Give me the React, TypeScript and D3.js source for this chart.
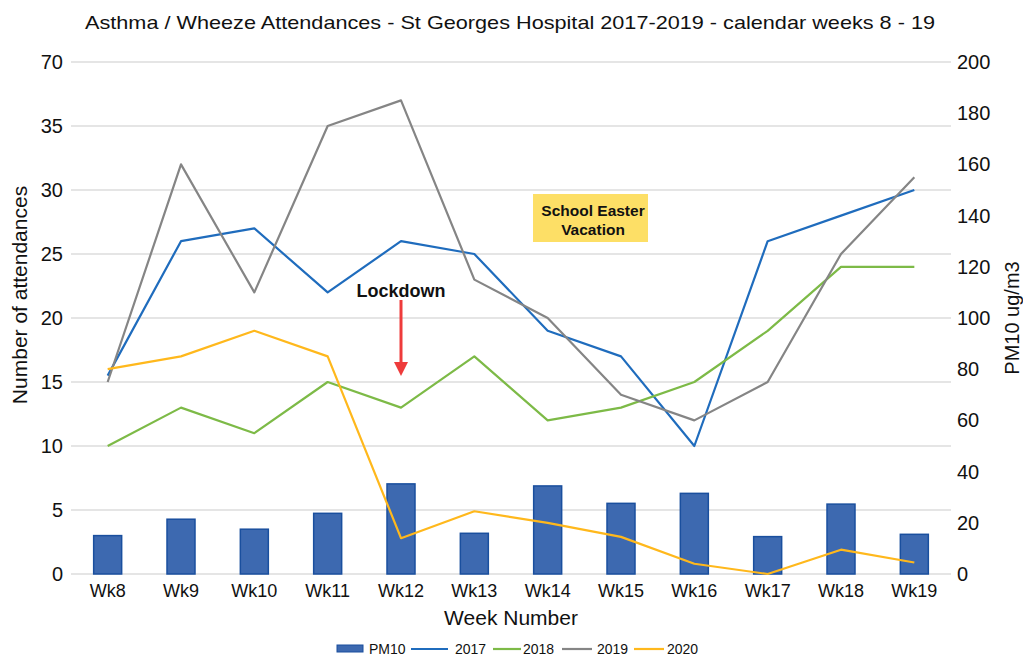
import React, { useEffect, useRef } from 'react';
import * as d3 from 'd3';

const weeks = ['Wk8', 'Wk9', 'Wk10', 'Wk11', 'Wk12', 'Wk13', 'Wk14', 'Wk15', 'Wk16', 'Wk17', 'Wk18', 'Wk19'];
const pm10 = [15, 21.4, 17.5, 23.7, 35.2, 15.9, 34.4, 27.6, 31.5, 14.6, 27.3, 15.5];
const y2017 = [15.5, 26, 27, 22, 26, 25, 19, 17, 10, 26, 28, 30];
const y2018 = [10, 13, 11, 15, 13, 17, 12, 13, 15, 19, 24, 24];
const y2019 = [15, 32, 22, 35, 37, 23, 20, 14, 12, 15, 25, 31];
const y2020 = [16, 17, 19, 17, 2.8, 4.9, 4, 2.9, 0.8, 0, 1.9, 0.9];
// the original chart labels its top tick "70" although the step is 5
const leftTicks = [0, 5, 10, 15, 20, 25, 30, 35, 40];
const leftTickLabels = ['0', '5', '10', '15', '20', '25', '30', '35', '70'];
const rightTicks = [0, 20, 40, 60, 80, 100, 120, 140, 160, 180, 200];

const series = [
  { name: '2017', values: y2017, color: '#1f6cbd' },
  { name: '2018', values: y2018, color: '#7dba47' },
  { name: '2019', values: y2019, color: '#858585' },
  { name: '2020', values: y2020, color: '#ffb81c' },
];

const W = 1023;
const H = 657;
const FONT = 'Liberation Sans, Arial, sans-serif';

export default function App() {
  const svgRef = useRef<SVGSVGElement>(null);

  useEffect(() => {
    const svg = d3.select(svgRef.current);
    svg.selectAll('*').remove();

    const left = 71, right = 951, top = 62, bottom = 574;
    const x = d3.scaleBand<string>().domain(weeks).range([left, right]);
    const yL = d3.scaleLinear().domain([0, 40]).range([bottom, top]);
    const yR = d3.scaleLinear().domain([0, 200]).range([bottom, top]);
    const cx = (w: string) => x(w)! + x.bandwidth() / 2;

    svg.append('rect').attr('width', W).attr('height', H).attr('fill', '#fff');

    // gridlines
    svg.append('g')
      .selectAll('line')
      .data(leftTicks)
      .join('line')
      .attr('x1', left)
      .attr('x2', right)
      .attr('y1', (d) => yL(d))
      .attr('y2', (d) => yL(d))
      .attr('stroke', '#dcdcdc')
      .attr('stroke-width', 1.5);

    // left ticks
    svg.append('g')
      .selectAll('text')
      .data(leftTicks)
      .join('text')
      .attr('x', 63)
      .attr('y', (d) => yL(d))
      .attr('dy', '0.35em')
      .attr('text-anchor', 'end')
      .attr('font-family', FONT)
      .attr('font-size', 20)
      .attr('fill', '#111')
      .text((d, i) => leftTickLabels[i]);

    // right ticks
    svg.append('g')
      .selectAll('text')
      .data(rightTicks)
      .join('text')
      .attr('x', 957)
      .attr('y', (d) => yR(d))
      .attr('dy', '0.35em')
      .attr('text-anchor', 'start')
      .attr('font-family', FONT)
      .attr('font-size', 20)
      .attr('fill', '#111')
      .text((d) => d);

    // x labels
    svg.append('g')
      .selectAll('text')
      .data(weeks)
      .join('text')
      .attr('x', (d) => cx(d))
      .attr('y', 597)
      .attr('text-anchor', 'middle')
      .attr('font-family', FONT)
      .attr('font-size', 18)
      .attr('fill', '#111')
      .text((d) => d);

    // bars (right axis)
    const bw = 28;
    svg.append('g')
      .selectAll('rect')
      .data(pm10)
      .join('rect')
      .attr('x', (d, i) => cx(weeks[i]) - bw / 2)
      .attr('y', (d) => yR(d))
      .attr('width', bw)
      .attr('height', (d) => bottom - yR(d))
      .attr('fill', '#3d69b0')
      .attr('stroke', '#1a4f9e')
      .attr('stroke-width', 1.5);

    const line = d3.line<number>()
      .x((d, i) => cx(weeks[i]))
      .y((d) => yL(d));

    series.forEach((s) => {
      svg.append('path')
        .datum(s.values)
        .attr('d', line)
        .attr('fill', 'none')
        .attr('stroke', s.color)
        .attr('stroke-width', 2.2)
        .attr('stroke-linejoin', 'round');
    });

    // title
    svg.append('text')
      .attr('x', 510)
      .attr('y', 29)
      .attr('text-anchor', 'middle')
      .attr('font-family', FONT)
      .attr('font-size', 19)
      .attr('textLength', 850)
      .attr('lengthAdjust', 'spacingAndGlyphs')
      .attr('fill', '#111')
      .text('Asthma / Wheeze Attendances - St Georges Hospital 2017-2019 - calendar weeks 8 - 19');

    svg.append('text')
      .attr('transform', 'translate(27,295) rotate(-90)')
      .attr('text-anchor', 'middle')
      .attr('font-family', FONT)
      .attr('font-size', 21)
      .attr('fill', '#111')
      .text('Number of attendances');

    svg.append('text')
      .attr('transform', 'translate(1019,318) rotate(-90)')
      .attr('text-anchor', 'middle')
      .attr('font-family', FONT)
      .attr('font-size', 20)
      .attr('fill', '#111')
      .text('PM10 ug/m3');

    svg.append('text')
      .attr('x', 511)
      .attr('y', 625)
      .attr('text-anchor', 'middle')
      .attr('font-family', FONT)
      .attr('font-size', 21)
      .attr('fill', '#111')
      .text('Week Number');

    // annotations
    svg.append('rect')
      .attr('x', 533).attr('y', 194).attr('width', 115).attr('height', 48)
      .attr('fill', '#fddf66');
    svg.append('text')
      .attr('x', 593).attr('y', 216)
      .attr('text-anchor', 'middle')
      .attr('font-family', FONT).attr('font-weight', 'bold').attr('font-size', 15.5)
      .attr('fill', '#111')
      .text('School Easter');
    svg.append('text')
      .attr('x', 593).attr('y', 235)
      .attr('text-anchor', 'middle')
      .attr('font-family', FONT).attr('font-weight', 'bold').attr('font-size', 15.5)
      .attr('fill', '#111')
      .text('Vacation');

    svg.append('text')
      .attr('x', 401).attr('y', 297)
      .attr('text-anchor', 'middle')
      .attr('font-family', FONT).attr('font-weight', 'bold').attr('font-size', 18)
      .attr('fill', '#111')
      .text('Lockdown');
    svg.append('line')
      .attr('x1', 401).attr('x2', 401).attr('y1', 300).attr('y2', 364)
      .attr('stroke', '#ee3b3b').attr('stroke-width', 3);
    svg.append('path')
      .attr('d', 'M394,362 L408,362 L401,376 Z')
      .attr('fill', '#ee3b3b');

    // legend
    const lg = svg.append('g').attr('font-family', FONT).attr('font-size', 14).attr('fill', '#111');
    lg.append('rect').attr('x', 337).attr('y', 645).attr('width', 26).attr('height', 7)
      .attr('fill', '#3d69b0').attr('stroke', '#1a4f9e');
    lg.append('text').attr('x', 369).attr('y', 654).text('PM10');
    const legendPos = [
      { x1: 411, x2: 448, tx: 455 },
      { x1: 493, x2: 521, tx: 523 },
      { x1: 562, x2: 592, tx: 597 },
      { x1: 634, x2: 664, tx: 667 },
    ];
    series.forEach((s, i) => {
      const p = legendPos[i];
      lg.append('line').attr('x1', p.x1).attr('x2', p.x2).attr('y1', 649).attr('y2', 649)
        .attr('stroke', s.color).attr('stroke-width', 2.2);
      lg.append('text').attr('x', p.tx).attr('y', 654).text(s.name);
    });
  }, []);

  return (
    <svg
      ref={svgRef}
      width={W}
      height={H}
      style={{ position: 'absolute', left: 0, top: 0, display: 'block' }}
    />
  );
}
